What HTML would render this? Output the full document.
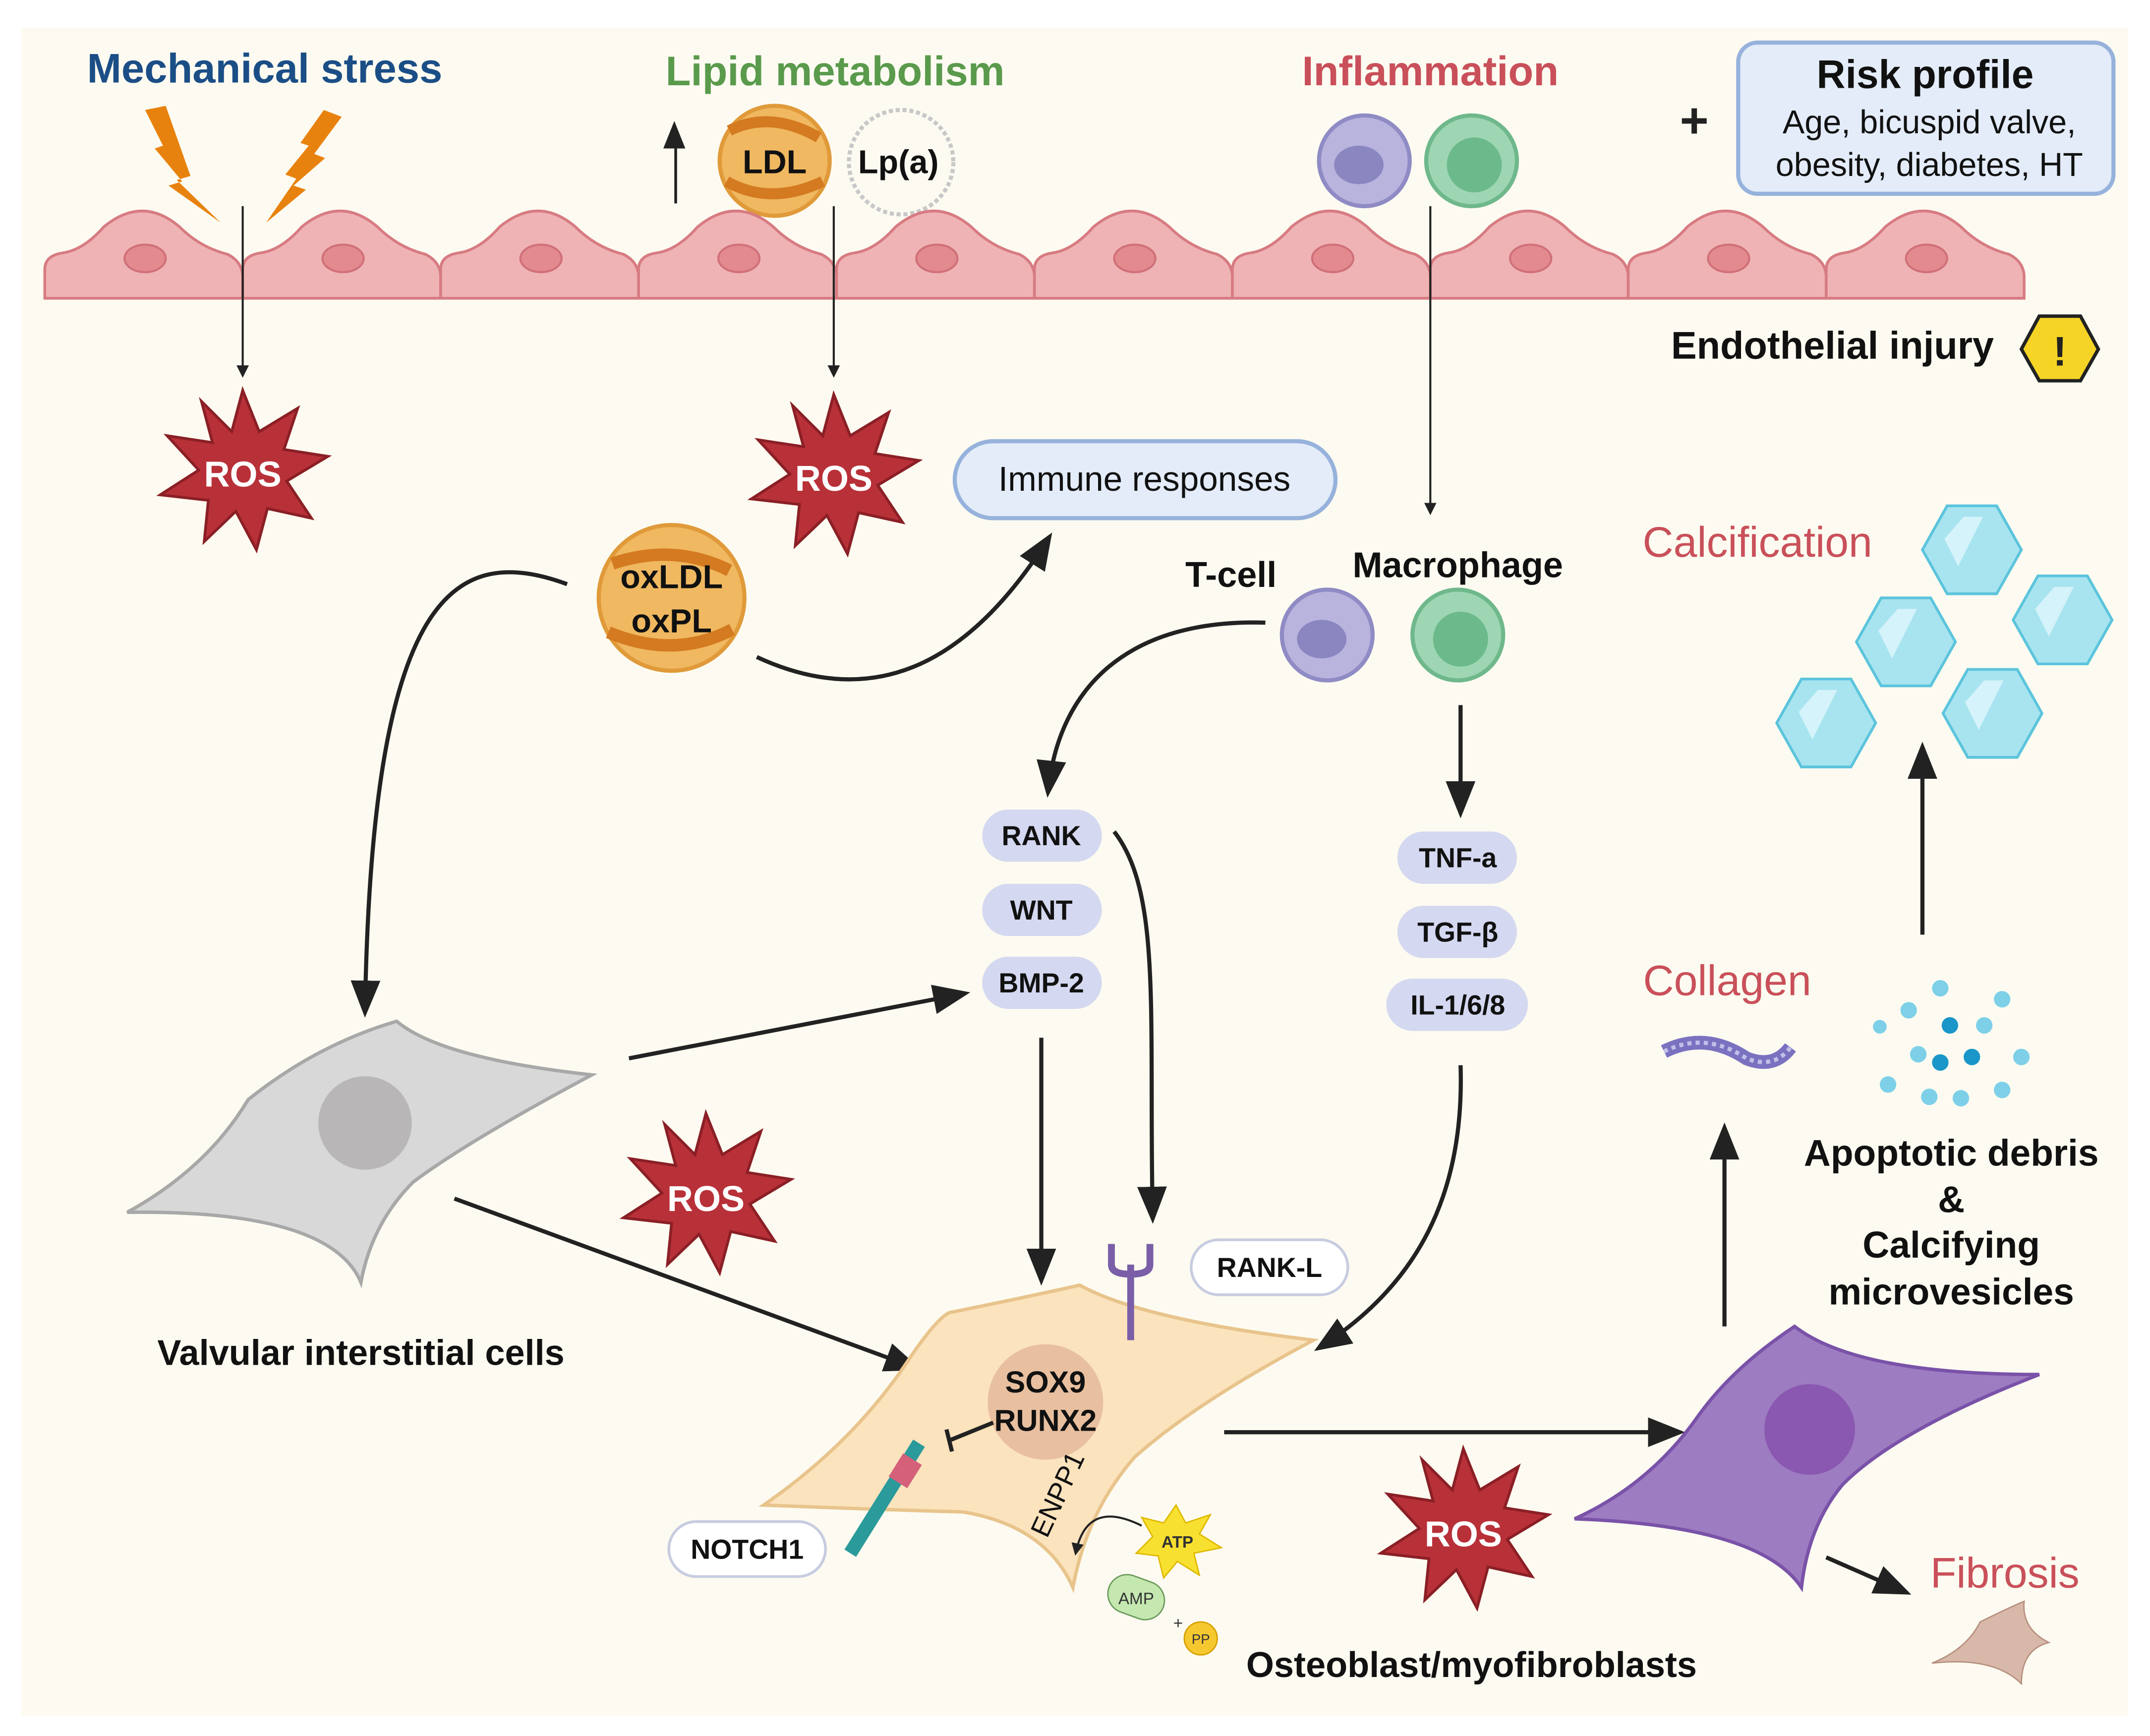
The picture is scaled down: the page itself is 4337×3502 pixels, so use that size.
<!DOCTYPE html>
<html><head><meta charset="utf-8"><style>html,body{margin:0;padding:0;background:#fff}svg{display:block}text{font-family:"Liberation Sans",sans-serif}</style></head>
<body>
<svg width="4337" height="3502" viewBox="0 0 1563 1263" xmlns="http://www.w3.org/2000/svg">
<defs>
<marker id="a" viewBox="0 0 10 10" refX="8" refY="5" markerWidth="6" markerHeight="6" orient="auto"><path d="M0,0L10,5L0,10z" fill="#222"/></marker>
<marker id="s" viewBox="0 0 10 10" refX="8" refY="5" markerWidth="9" markerHeight="9" orient="auto"><path d="M0,1L10,5L0,9z" fill="#222"/></marker>
<g id="ros"><polygon points="0,-58 12,-28 40,-45 30,-15 62,-10 32,8 50,35 18,28 10,58 -5,30 -28,52 -25,22 -60,18 -32,0 -55,-25 -22,-20 -30,-50 -8,-28" fill="#b83038" stroke="#8a1f25" stroke-width="2"/></g>
<g id="hex"><polygon points="-36,0 -18,-32 18,-32 36,0 18,32 -18,32" fill="#a8e4f0" stroke="#5cc4dc" stroke-width="2"/><polygon points="-20,-8 -6,-24 8,-24 -10,12" fill="#d5f3fa"/></g>
</defs>
<rect width="1563" height="1263" fill="#fff"/>
<rect x="15" y="20" width="1533" height="1228" fill="#fdfbf1"/>

<!-- titles -->
<text x="192" y="60" font-size="30" font-weight="bold" fill="#1b4e86" text-anchor="middle">Mechanical stress</text>
<text x="607" y="62" font-size="30" font-weight="bold" fill="#5a9a4c" text-anchor="middle">Lipid metabolism</text>
<text x="1040" y="62" font-size="30" font-weight="bold" fill="#c9505a" text-anchor="middle">Inflammation</text>
<text x="1232" y="100" font-size="36" font-weight="bold" fill="#222" text-anchor="middle">+</text>
<rect x="1264" y="31" width="273" height="110" rx="14" fill="#e3ecf8" stroke="#96b2dc" stroke-width="3"/>
<text x="1400" y="64" font-size="29" font-weight="bold" fill="#111" text-anchor="middle">Risk profile</text>
<text x="1403" y="97" font-size="24" fill="#111" text-anchor="middle">Age, bicuspid valve,</text>
<text x="1403" y="128" font-size="24" fill="#111" text-anchor="middle">obesity, diabetes, HT</text>

<!-- lightning -->
<polygon points="105,80 120,77 138,128 128,131 160,162 122,135 132,132 112,108 118,106" fill="#e8820f"/>
<polygon points="235,80 248,85 228,112 236,115 213,135 222,138 193,162 215,130 207,127 224,106 218,104" fill="#e8820f"/>

<!-- LDL -->
<path d="M490,148L490,108L482,108L490,88L498,108L492,108L492,148z" fill="#222"/>
<circle cx="563" cy="117" r="40" fill="#f0b860" stroke="#e09a3a" stroke-width="3"/>
<path d="M530,95 Q560,80 595,100" stroke="#d47a20" stroke-width="8" fill="none"/>
<path d="M528,132 Q560,150 598,132" stroke="#d47a20" stroke-width="8" fill="none"/>
<text x="563" y="126" font-size="24" font-weight="bold" fill="#111" text-anchor="middle">LDL</text>
<circle cx="655" cy="118" r="38" fill="#fdfbf1" stroke="#c8c8c8" stroke-width="3" stroke-dasharray="3,2"/>
<text x="653" y="126" font-size="24" font-weight="bold" fill="#111" text-anchor="middle">Lp(a)</text>

<!-- inflammation cells -->
<circle cx="992" cy="117" r="33" fill="#b8b4de" stroke="#8f8bc4" stroke-width="3"/>
<ellipse cx="988" cy="120" rx="18" ry="14" fill="#8a86c0"/>
<circle cx="1070" cy="117" r="33" fill="#9ed6b4" stroke="#6fb88c" stroke-width="3"/>
<circle cx="1072" cy="120" r="20" fill="#6cba8c"/>

<!-- endothelium -->
<g fill="#efb3b5" stroke="#d77b82" stroke-width="2">
<path d="M32,217 L32,196 Q32,186 45,184 Q60,182 75,165 Q103,142 130,165 Q145,180 165,185 Q175,190 176,200 L176,217z"/>
<path d="M176,217 L176,196 Q176,186 189,184 Q204,182 219,165 Q247,142 274,165 Q289,180 309,185 Q319,190 320,200 L320,217z"/>
<path d="M320,217 L320,196 Q320,186 333,184 Q348,182 363,165 Q391,142 418,165 Q433,180 453,185 Q463,190 464,200 L464,217z"/>
<path d="M464,217 L464,196 Q464,186 477,184 Q492,182 507,165 Q535,142 562,165 Q577,180 597,185 Q607,190 608,200 L608,217z"/>
<path d="M608,217 L608,196 Q608,186 621,184 Q636,182 651,165 Q679,142 706,165 Q721,180 741,185 Q751,190 752,200 L752,217z"/>
<path d="M752,217 L752,196 Q752,186 765,184 Q780,182 795,165 Q823,142 850,165 Q865,180 885,185 Q895,190 896,200 L896,217z"/>
<path d="M896,217 L896,196 Q896,186 909,184 Q924,182 939,165 Q967,142 994,165 Q1009,180 1029,185 Q1039,190 1040,200 L1040,217z"/>
<path d="M1040,217 L1040,196 Q1040,186 1053,184 Q1068,182 1083,165 Q1111,142 1138,165 Q1153,180 1173,185 Q1183,190 1184,200 L1184,217z"/>
<path d="M1184,217 L1184,196 Q1184,186 1197,184 Q1212,182 1227,165 Q1255,142 1282,165 Q1297,180 1317,185 Q1327,190 1328,200 L1328,217z"/>
<path d="M1328,217 L1328,196 Q1328,186 1341,184 Q1356,182 1371,165 Q1399,142 1426,165 Q1441,180 1461,185 Q1471,190 1472,200 L1472,217z"/>
</g>
<g fill="#e38a8e" stroke="#d07078" stroke-width="1.5">
<ellipse cx="105" cy="188" rx="15" ry="10"/><ellipse cx="249" cy="188" rx="15" ry="10"/><ellipse cx="393" cy="188" rx="15" ry="10"/><ellipse cx="537" cy="188" rx="15" ry="10"/><ellipse cx="681" cy="188" rx="15" ry="10"/><ellipse cx="825" cy="188" rx="15" ry="10"/><ellipse cx="969" cy="188" rx="15" ry="10"/><ellipse cx="1113" cy="188" rx="15" ry="10"/><ellipse cx="1257" cy="188" rx="15" ry="10"/><ellipse cx="1401" cy="188" rx="15" ry="10"/>
</g>

<!-- thin vertical arrows -->
<line x1="176" y1="150" x2="176" y2="273" stroke="#222" stroke-width="1.5" marker-end="url(#a)"/>
<line x1="606" y1="150" x2="606" y2="273" stroke="#222" stroke-width="1.5" marker-end="url(#a)"/>
<line x1="1040" y1="150" x2="1040" y2="373" stroke="#222" stroke-width="1.5" marker-end="url(#a)"/>

<text x="1450" y="261" font-size="28" font-weight="bold" fill="#111" text-anchor="end">Endothelial injury</text>
<polygon points="1470,254 1483,230 1513,230 1526,254 1513,277 1483,277" fill="#f5d425" stroke="#222" stroke-width="2.5"/>
<text x="1498" y="266" font-size="30" font-weight="bold" fill="#222" text-anchor="middle">!</text>

<!-- ROS -->
<g transform="translate(176,342)"><use href="#ros"/></g>
<text x="176" y="354" font-size="26" font-weight="bold" fill="#fff" text-anchor="middle">ROS</text>
<g transform="translate(606,345)"><use href="#ros"/></g>
<text x="606" y="357" font-size="26" font-weight="bold" fill="#fff" text-anchor="middle">ROS</text>
<g transform="translate(513,868)"><use href="#ros"/></g>
<text x="513" y="881" font-size="26" font-weight="bold" fill="#fff" text-anchor="middle">ROS</text>
<g transform="translate(1064,1112)"><use href="#ros"/></g>
<text x="1064" y="1125" font-size="26" font-weight="bold" fill="#fff" text-anchor="middle">ROS</text>

<rect x="694" y="321" width="277" height="56" rx="28" fill="#e3ecf8" stroke="#96b2dc" stroke-width="3"/>
<text x="832" y="357" font-size="25" fill="#111" text-anchor="middle">Immune responses</text>

<!-- oxLDL -->
<circle cx="488" cy="435" r="53" fill="#f0b860" stroke="#e09a3a" stroke-width="3"/>
<path d="M445,410 Q490,395 530,415" stroke="#d47a20" stroke-width="9" fill="none"/>
<path d="M442,460 Q490,480 532,458" stroke="#d47a20" stroke-width="9" fill="none"/>
<text x="488" y="428" font-size="24" font-weight="bold" fill="#111" text-anchor="middle">oxLDL</text>
<text x="488" y="460" font-size="24" font-weight="bold" fill="#111" text-anchor="middle">oxPL</text>

<!-- curved arrows -->
<path d="M412,425 C330,395 270,430 265,735" stroke="#222" stroke-width="3" fill="none" marker-end="url(#s)"/>
<path d="M550,478 C630,515 700,490 762,392" stroke="#222" stroke-width="3" fill="none" marker-end="url(#s)"/>

<text x="895" y="427" font-size="26" font-weight="bold" fill="#111" text-anchor="middle">T-cell</text>
<text x="1060" y="420" font-size="26" font-weight="bold" fill="#111" text-anchor="middle">Macrophage</text>
<circle cx="965" cy="462" r="33" fill="#b8b4de" stroke="#8f8bc4" stroke-width="3"/>
<ellipse cx="961" cy="465" rx="18" ry="14" fill="#8a86c0"/>
<circle cx="1060" cy="462" r="33" fill="#9ed6b4" stroke="#6fb88c" stroke-width="3"/>
<circle cx="1062" cy="465" r="20" fill="#6cba8c"/>
<path d="M920,453 C820,450 770,500 762,575" stroke="#222" stroke-width="3" fill="none" marker-end="url(#s)"/>
<line x1="1062" y1="513" x2="1062" y2="590" stroke="#222" stroke-width="3" marker-end="url(#s)"/>

<!-- pills -->
<g fill="#d4d8f0">
<rect x="714" y="589" width="87" height="38" rx="19"/><rect x="714" y="643" width="87" height="38" rx="19"/><rect x="714" y="696" width="87" height="38" rx="19"/>
<rect x="1016" y="605" width="87" height="38" rx="19"/><rect x="1016" y="659" width="87" height="38" rx="19"/><rect x="1008" y="712" width="103" height="38" rx="19"/>
</g>
<g font-size="20" font-weight="bold" fill="#111" text-anchor="middle">
<text x="757" y="615">RANK</text><text x="757" y="669">WNT</text><text x="757" y="722">BMP-2</text>
<text x="1060" y="631">TNF-a</text><text x="1060" y="685">TGF-β</text><text x="1060" y="738">IL-1/6/8</text>
</g>

<!-- calcification -->
<text x="1278" y="405" font-size="31" fill="#c9505a" text-anchor="middle">Calcification</text>
<g transform="translate(1434,400)"><use href="#hex"/></g>
<g transform="translate(1386,467)"><use href="#hex"/></g>
<g transform="translate(1500,451)"><use href="#hex"/></g>
<g transform="translate(1328,526)"><use href="#hex"/></g>
<g transform="translate(1449,519)"><use href="#hex"/></g>
<line x1="1398" y1="680" x2="1398" y2="545" stroke="#222" stroke-width="3" marker-end="url(#s)"/>

<!-- VIC -->
<path d="M92,882 Q150,850 180,800 Q230,760 288,743 Q320,770 430,782 Q340,830 300,860 Q270,890 262,933 Q240,880 92,882z" fill="#d8d8d8" stroke="#a8a8a8" stroke-width="2.5"/>
<circle cx="265" cy="817" r="34" fill="#b8b6b6"/>
<text x="262" y="993" font-size="26" font-weight="bold" fill="#111" text-anchor="middle">Valvular interstitial cells</text>
<line x1="457" y1="770" x2="700" y2="723" stroke="#222" stroke-width="3" marker-end="url(#s)"/>
<line x1="330" y1="872" x2="665" y2="995" stroke="#222" stroke-width="3" marker-end="url(#s)"/>
<line x1="757" y1="755" x2="757" y2="930" stroke="#222" stroke-width="3" marker-end="url(#s)"/>
<path d="M810,605 C845,650 835,740 838,885" stroke="#222" stroke-width="3" fill="none" marker-end="url(#s)"/>
<path d="M1062,775 C1065,870 1030,935 960,980" stroke="#222" stroke-width="3" fill="none" marker-end="url(#s)"/>

<!-- osteoblast -->
<path d="M555,1095 Q620,1050 660,990 Q680,960 690,955 Q740,945 785,935 Q830,960 955,975 Q870,1020 825,1060 Q790,1100 780,1155 Q760,1110 700,1100 Q630,1098 555,1095z" fill="#fbe3bd" stroke="#e8c48c" stroke-width="2.5"/>
<circle cx="760" cy="1020" r="42" fill="#e8c0a0"/>
<text x="760" y="1013" font-size="22" font-weight="bold" fill="#111" text-anchor="middle">SOX9</text>
<text x="760" y="1041" font-size="22" font-weight="bold" fill="#111" text-anchor="middle">RUNX2</text>
<text x="775" y="1090" font-size="20" fill="#111" text-anchor="middle" transform="rotate(-65 775 1090)">ENPP1</text>
<path d="M822,975 L822,920 M808,905 L808,920 Q808,927 822,927 Q836,927 836,920 L836,905" stroke="#7a5fa8" stroke-width="5" fill="none"/>
<rect x="866" y="902" width="114" height="40" rx="20" fill="#fff" stroke="#c8cce0" stroke-width="2"/>
<text x="923" y="929" font-size="20" font-weight="bold" fill="#111" text-anchor="middle">RANK-L</text>
<path d="M722,1035 L690,1048 M688,1040 L692,1056" stroke="#222" stroke-width="3"/>
<path d="M618,1130 L668,1050" stroke="#2a9a9a" stroke-width="10"/>
<rect x="650" y="1060" width="16" height="20" fill="#d4607a" transform="rotate(32 658 1070)"/>
<rect x="486" y="1107" width="114" height="40" rx="20" fill="#fff" stroke="#c8cce0" stroke-width="2"/>
<text x="543" y="1134" font-size="20" font-weight="bold" fill="#111" text-anchor="middle">NOTCH1</text>
<path d="M830,1110 Q790,1090 782,1130" stroke="#222" stroke-width="1.5" fill="none" marker-end="url(#a)"/>
<polygon points="855,1095 862,1108 880,1102 872,1116 888,1126 868,1130 872,1146 856,1136 846,1148 842,1132 826,1130 838,1118 830,1104 846,1108" fill="#f8e030" stroke="#e0b800"/>
<text x="856" y="1126" font-size="12" font-weight="bold" fill="#333" text-anchor="middle">ATP</text>
<rect x="805" y="1148" width="42" height="28" rx="14" fill="#c4e8b0" stroke="#6a9a5a" transform="rotate(20 826 1162)"/>
<text x="826" y="1167" font-size="12" fill="#333" text-anchor="middle">AMP</text>
<text x="853" y="1185" font-size="12" fill="#333">+</text>
<circle cx="873" cy="1192" r="12" fill="#f5c830" stroke="#d8a000"/>
<text x="873" y="1196" font-size="10" fill="#333" text-anchor="middle">PP</text>
<text x="1070" y="1220" font-size="26" font-weight="bold" fill="#111" text-anchor="middle">Osteoblast/myofibroblasts</text>

<line x1="890" y1="1042" x2="1220" y2="1042" stroke="#222" stroke-width="3" marker-end="url(#s)"/>

<!-- purple cell -->
<path d="M1145,1105 Q1200,1080 1235,1030 Q1260,995 1305,965 Q1350,1000 1483,1000 Q1380,1040 1340,1080 Q1315,1110 1310,1155 Q1280,1110 1145,1105z" fill="#9e7cc2" stroke="#7a52a8" stroke-width="2.5"/>
<circle cx="1316" cy="1040" r="33" fill="#8a58b0"/>
<line x1="1254" y1="965" x2="1254" y2="822" stroke="#222" stroke-width="3" marker-end="url(#s)"/>
<line x1="1328" y1="1133" x2="1385" y2="1158" stroke="#222" stroke-width="3" marker-end="url(#s)"/>
<text x="1458" y="1155" font-size="31" fill="#c9505a" text-anchor="middle">Fibrosis</text>
<path d="M1405,1210 Q1430,1200 1440,1180 Q1460,1170 1472,1165 Q1470,1185 1490,1195 Q1470,1200 1470,1225 Q1450,1205 1405,1210z" fill="#d8b8a8" stroke="#b89080"/>

<text x="1256" y="724" font-size="31" fill="#c9505a" text-anchor="middle">Collagen</text>
<path d="M1210,765 Q1240,750 1270,770 Q1290,778 1302,762" stroke="#7a72c0" stroke-width="10" fill="none"/>
<path d="M1210,765 Q1240,750 1270,770 Q1290,778 1302,762" stroke="#c0c0e8" stroke-width="3" fill="none" stroke-dasharray="3,3"/>

<g fill="#7ed0e8">
<circle cx="1411" cy="719" r="6"/><circle cx="1456" cy="727" r="6"/><circle cx="1388" cy="735" r="6"/><circle cx="1367" cy="747" r="5"/><circle cx="1443" cy="746" r="6"/><circle cx="1395" cy="767" r="6"/><circle cx="1470" cy="769" r="6"/><circle cx="1373" cy="789" r="6"/><circle cx="1403" cy="798" r="6"/><circle cx="1426" cy="799" r="6"/><circle cx="1456" cy="793" r="6"/>
</g>
<g fill="#1a96c8"><circle cx="1418" cy="746" r="6"/><circle cx="1411" cy="773" r="6"/><circle cx="1434" cy="769" r="6"/></g>
<g font-size="27" font-weight="bold" fill="#111" text-anchor="middle">
<text x="1419" y="848">Apoptotic debris</text><text x="1419" y="882">&amp;</text><text x="1419" y="915">Calcifying</text><text x="1419" y="949">microvesicles</text>
</g>
</svg>
</body></html>
